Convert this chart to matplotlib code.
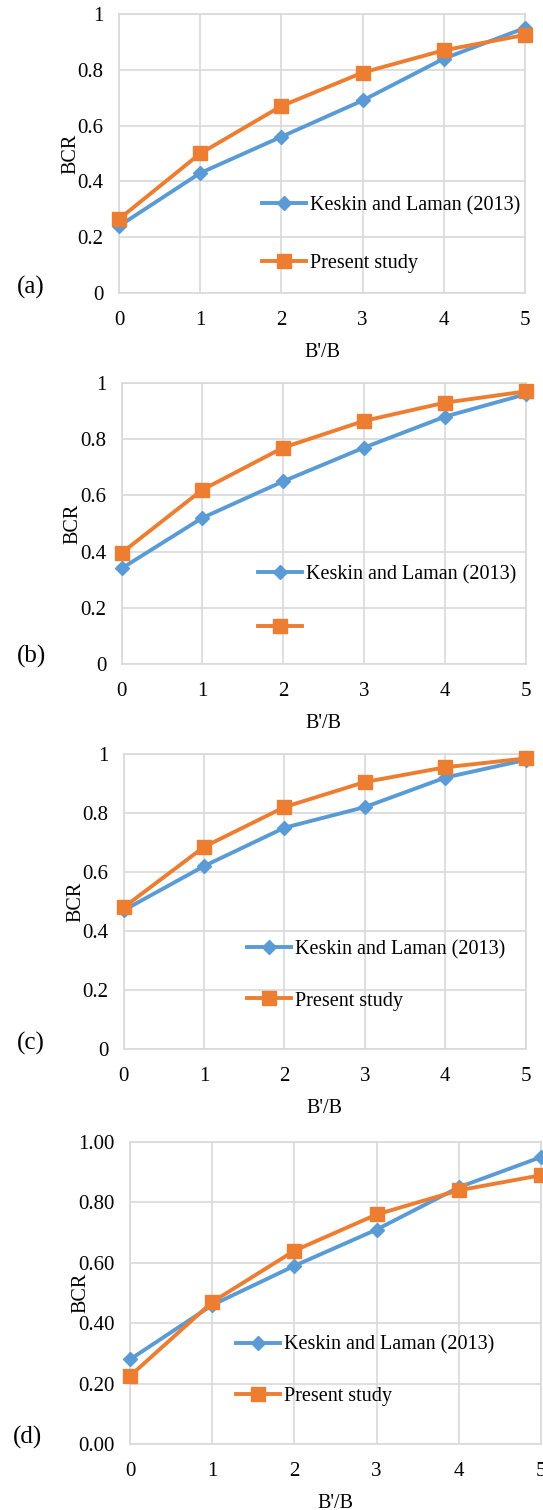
import numpy as np
import matplotlib
matplotlib.use("Agg")
import matplotlib.pyplot as plt
from matplotlib.ticker import FuncFormatter

plt.rcParams['font.family'] = ['Liberation Serif', 'DejaVu Serif']

ratio = [0, 1, 2, 3, 4, 5]

keskin_a = [0.24, 0.43, 0.56, 0.69, 0.84, 0.95]
present_a = [0.265, 0.50, 0.67, 0.79, 0.87, 0.925]

keskin_b = [0.34, 0.52, 0.65, 0.77, 0.88, 0.96]
present_b = [0.395, 0.62, 0.77, 0.865, 0.93, 0.97]

keskin_c = [0.47, 0.62, 0.75, 0.82, 0.92, 0.98]
present_c = [0.48, 0.685, 0.82, 0.905, 0.955, 0.985]

keskin_d = [0.28, 0.46, 0.59, 0.71, 0.85, 0.95]
present_d = [0.225, 0.47, 0.64, 0.76, 0.84, 0.89]

yticks = [0, 0.2, 0.4, 0.6, 0.8, 1.0]

BLUE = '#5B9BD5'
ORANGE = '#ED7D31'
GRID = '#D9D9D9'

W, H = 543, 1510
fig = plt.figure(figsize=(W / 100, H / 100), dpi=100)


def px_rect(l, t, r, b):
    return [l / W, 1 - b / H, (r - l) / W, (b - t) / H]


def panel(rect, keskin, present, tag, tagpos, leg_anchor, leg_space, second_label, fmt):
    ax = fig.add_axes(px_rect(*rect))
    l1, = ax.plot(ratio, keskin, color=BLUE, lw=2.8, marker='D', ms=7,
                  clip_on=False, zorder=3)
    l2, = ax.plot(ratio, present, color=ORANGE, lw=2.8, marker='s', ms=9.5,
                  clip_on=False, zorder=4)
    ax.set_xlim(0, 5)
    ax.set_ylim(0, 1)
    ax.set_xticks(ratio)
    ax.set_yticks(yticks)
    ax.yaxis.set_major_formatter(FuncFormatter(fmt))
    ax.grid(True, color=GRID, lw=1.2)
    ax.set_axisbelow(True)
    for s in ax.spines.values():
        s.set_color(GRID)
        s.set_linewidth(1.2)
    ax.tick_params(length=0, labelsize=15, pad=11, colors='black')
    ax.tick_params(axis='x', pad=13)
    ax.set_xlabel("B'/B", fontsize=14.5, labelpad=9)
    ax.set_ylabel("BCR", fontsize=14.5)
    ax.yaxis.set_label_coords(-0.096, 0.5)
    # second entry of (b) has no text in the original
    ax.legend([l1, l2], ['Keskin and Laman (2013)', second_label],
              loc='center left', bbox_to_anchor=leg_anchor, frameon=False,
              fontsize=14.5, handlelength=2.2, handletextpad=0.2,
              labelspacing=leg_space, borderpad=0, borderaxespad=0)
    fig.text(tagpos[0] / W, 1 - tagpos[1] / H, tag, fontsize=18,
             ha='center', va='center')
    return ax


def general(v, pos):
    return '%g' % v


def two_dec(v, pos):
    return '%.2f' % v


panel((119, 14, 525, 293), keskin_a, present_a, '(a)', (31, 287),
      (0.352, 0.21), 1.9, 'Present study', general)
panel((121.5, 383, 525.6, 664), keskin_b, present_b, '(b)', (31, 656),
      (0.338, 0.222), 1.75, '', general)
panel((123.6, 754, 525.6, 1049), keskin_c, present_c, '(c)', (31, 1043),
      (0.306, 0.25), 1.6, 'Present study', general)
panel((130, 1142, 541, 1444), keskin_d, present_d, '(d)', (28, 1437),
      (0.258, 0.242), 1.6, 'Present study', two_dec)

fig.savefig('out.png', dpi=100)
